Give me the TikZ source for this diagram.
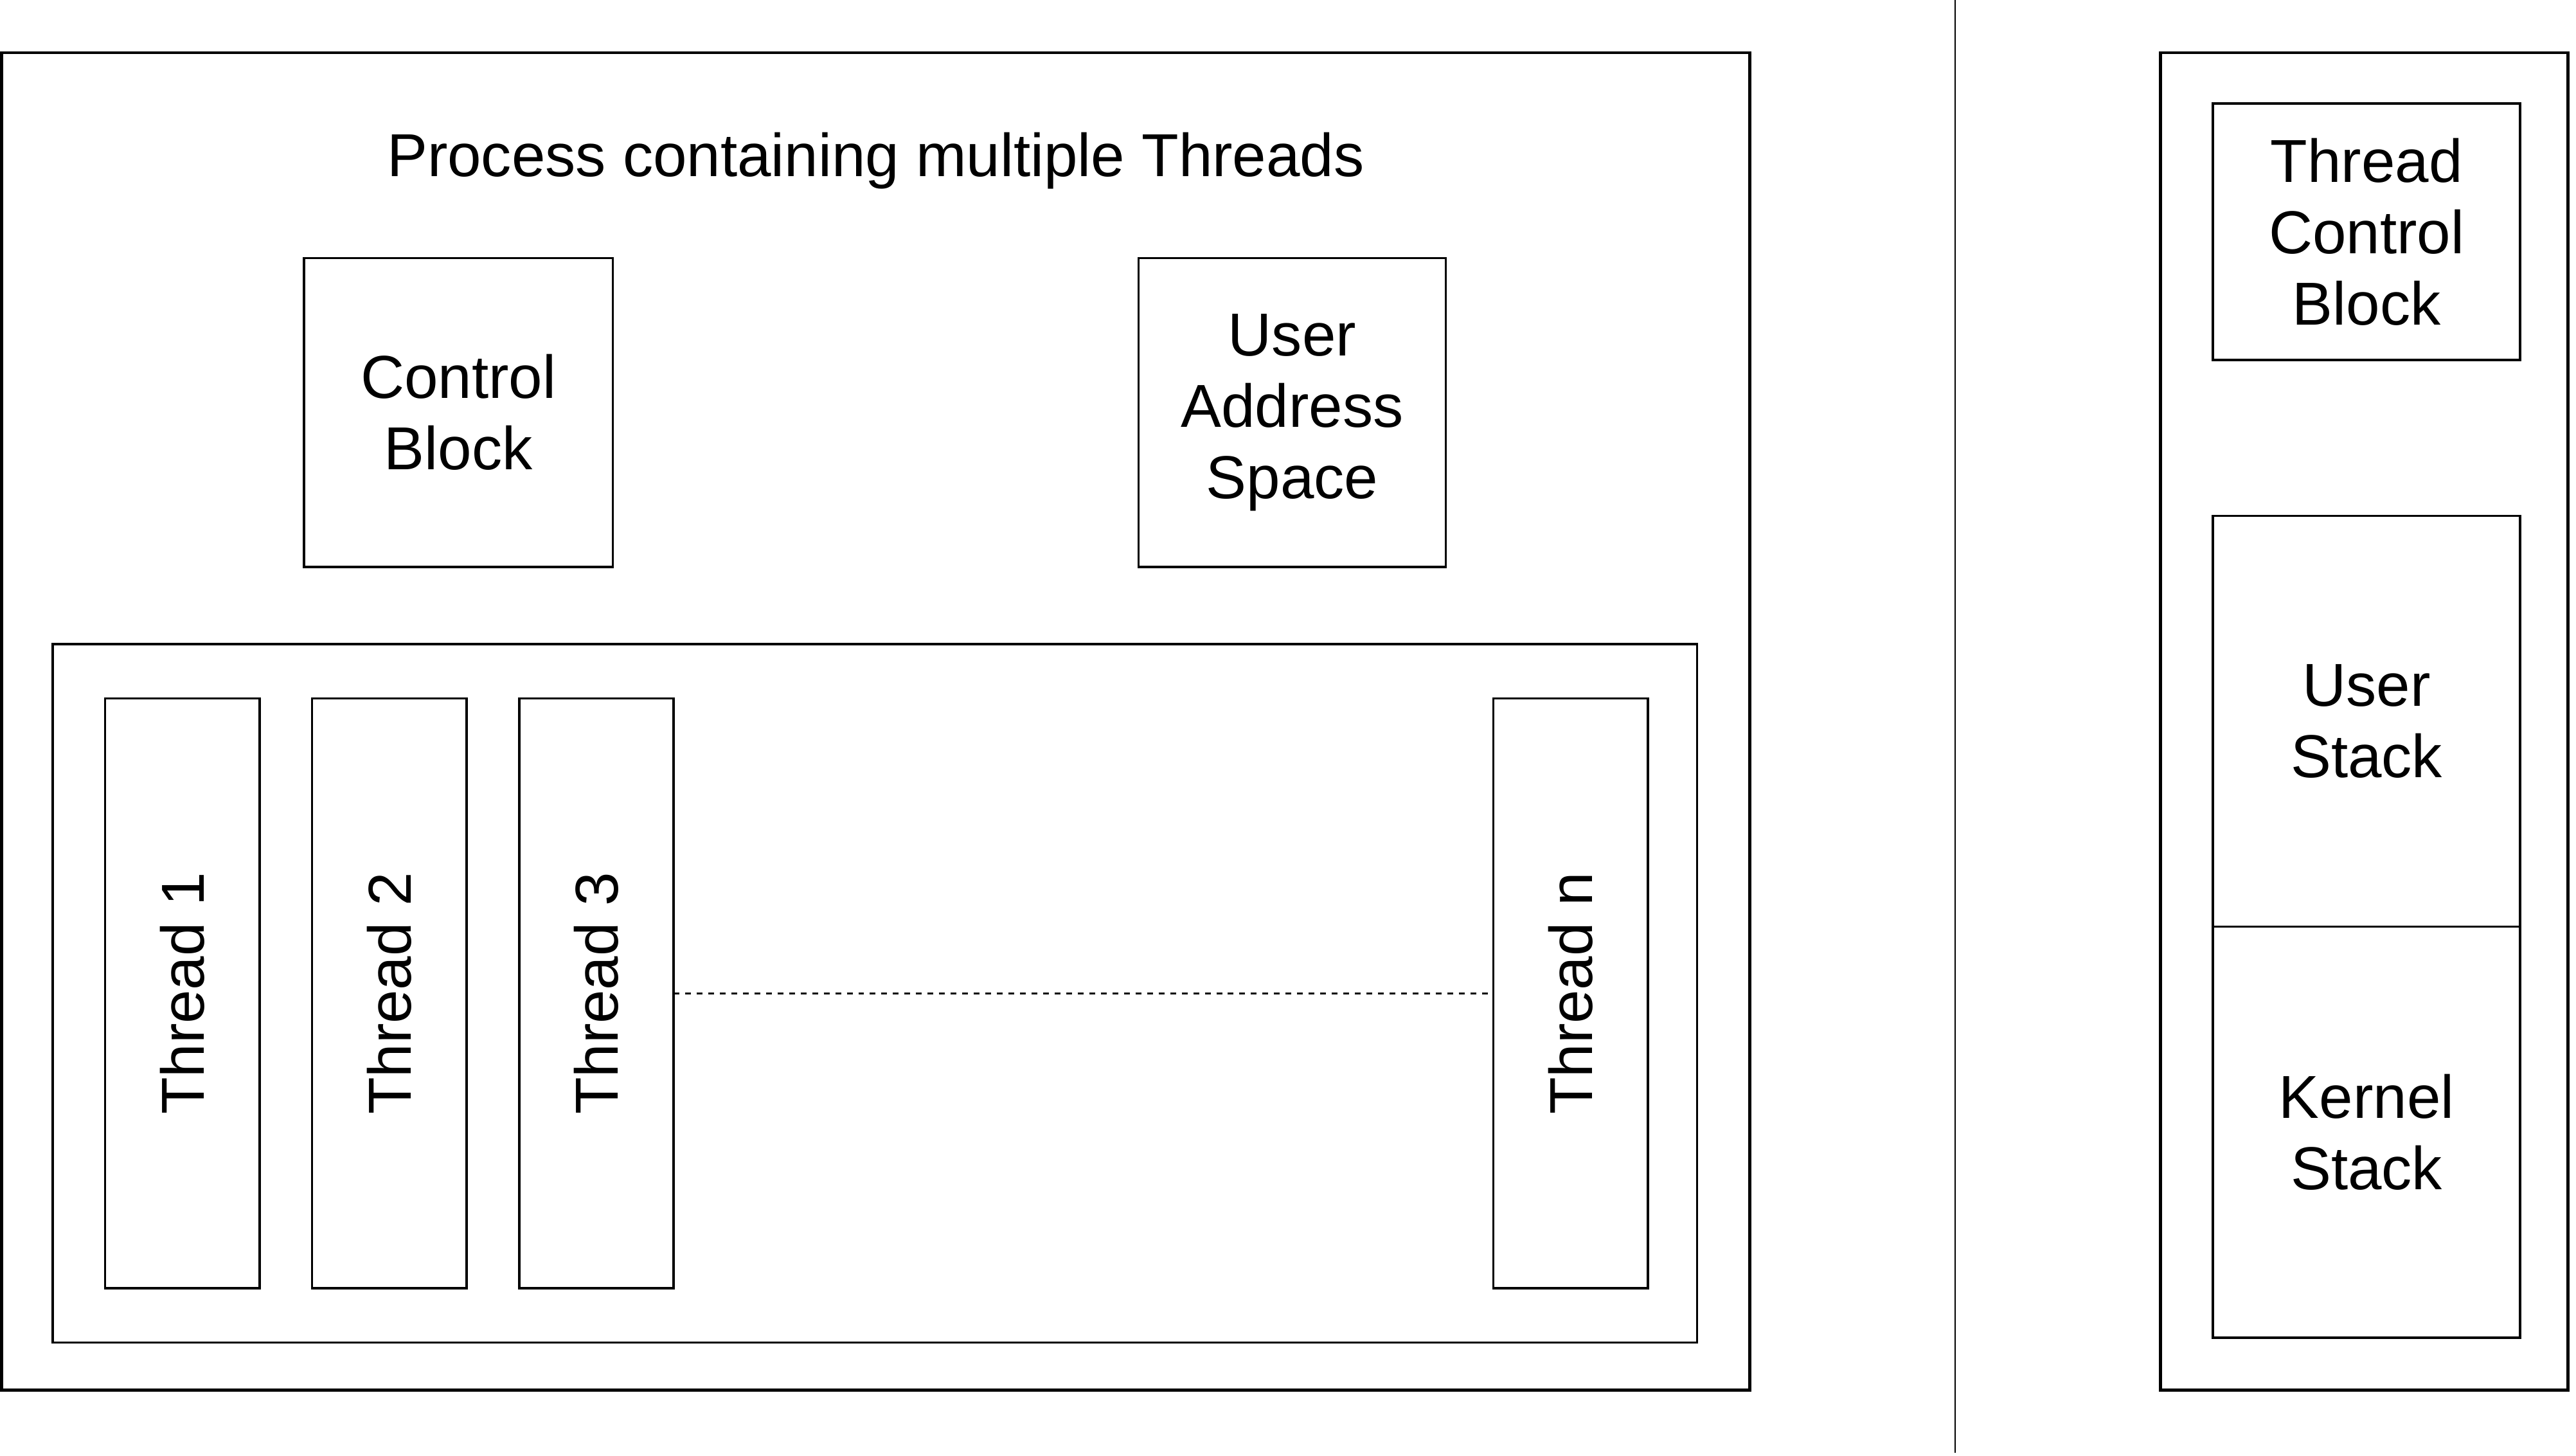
\documentclass[tikz,border=0pt]{standalone}
\usepackage{fontspec}
\setmainfont{Liberation Sans}
\usetikzlibrary{positioning}

\tikzset{
	txt/.style={font=\fontsize{21}{24.7}\selectfont, align=center},
	box/.style 2 args={draw, line width=0.8pt, txt, inner sep=0pt, outer sep=0pt,
		minimum width=#1*0.2mm, minimum height=#2*0.2mm},
	frame/.style 2 args={box={#1}{#2}, line width=1pt},
	thread/.style={box={94}{359}},
}

\begin{document}
\begin{tikzpicture}[x=0.2mm, y=-0.2mm]
		\useasboundingbox (0,0) rectangle (1568,886);
		% process side
		\node[frame={1064}{814}] (proc) at (533,439) {};
		\node[txt] (title) at (533,98) {Process containing multiple Threads};
		\node[box={188}{188}] (cb) at (279,251) {Control\\Block};
		\node[box={187}{188}] (uas) at (786.5,251) {User\\Address\\Space};
		\node[box={1001}{425}] (pool) at (532.5,604.5) {};

		% threads
		\foreach \i/\x in {1/111,2/237,3/363}
			\node[thread] (t\i) at (\x,604.5) {\rotatebox{90}{Thread \i}};
		\node[thread] (tn) at (956,604.5) {\rotatebox{90}{Thread n}};
		\draw[line width=0.65pt, dash pattern=on 2pt off 2pt] (t3.east) -- (tn.west);

		% divider
		\draw[line width=0.55pt] (1190,0) -- (1190,884);

		% single thread side
		\node[frame={248}{814}] (tproc) at (1439,439) {};
		\node[box={187}{156}] (tcb) at (1440.5,141) {Thread\\Control\\Block};
		\node[box={187}{250}] (ustack) at (1440.5,439) {User\\Stack};
		\node[box={187}{250}] (kstack) at (1440.5,689) {Kernel\\Stack};
	\end{tikzpicture}
\end{document}
